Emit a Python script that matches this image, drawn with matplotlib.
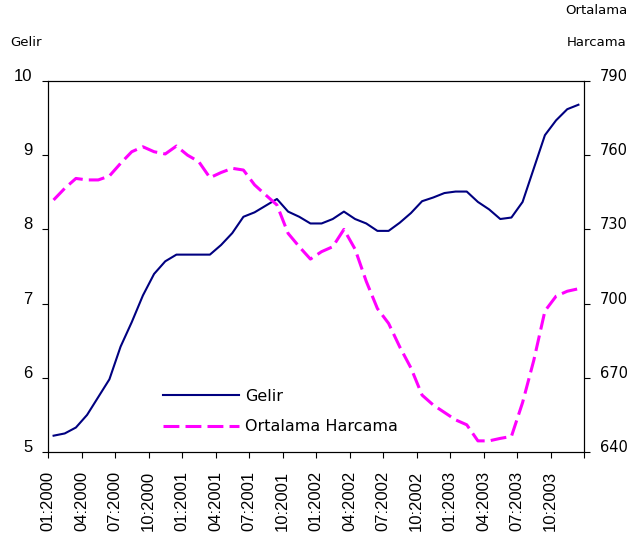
import matplotlib
matplotlib.use("Agg")
import matplotlib.pyplot as plt
from matplotlib.transforms import ScaledTranslation
import numpy as np

# ---- data ----
tick_labels = ["01:2000", "04:2000", "07:2000", "10:2000",
               "01:2001", "04:2001", "07:2001", "10:2001",
               "01:2002", "04:2002", "07:2002", "10:2002",
               "01:2003", "04:2003", "07:2003", "10:2003"]

gelir = [5.22, 5.25, 5.33, 5.50, 5.74, 5.98, 6.42, 6.75, 7.11, 7.40,
         7.57, 7.66, 7.66, 7.66, 7.66, 7.79, 7.95, 8.17, 8.23, 8.32,
         8.41, 8.24, 8.17, 8.08, 8.08, 8.14, 8.24, 8.14, 8.08, 7.98,
         7.98, 8.09, 8.22, 8.38, 8.43, 8.49, 8.51, 8.51, 8.37, 8.27,
         8.14, 8.16, 8.37, 8.82, 9.27, 9.47, 9.62, 9.68]

harcama = [741.9, 746.6, 750.6, 750.0, 750.0, 751.6, 756.7, 761.4, 763.4, 761.4,
           760.5, 763.7, 760.0, 757.4, 750.9, 753.0, 754.7, 754.0, 748.0, 743.9,
           739.9, 728.4, 723.0, 718.0, 721.0, 723.0, 730.0, 722.0, 709.0, 698.0,
           692.0, 682.5, 674.0, 663.0, 659.0, 656.0, 653.0, 651.0, 644.5, 644.5,
           645.5, 646.3, 660.0, 677.0, 697.0, 703.0, 705.0, 706.0]

left_ticks = [5, 6, 7, 8, 9, 10]
right_ticks = [640, 670, 700, 730, 760, 790]

# ---- figure ----
W, H = 632, 543
fig = plt.figure(figsize=(W / 100, H / 100), dpi=100)
ax = fig.add_axes([48 / W, 1 - 452 / H, (584 - 48) / W, (452 - 81) / H])
ax2 = ax.twinx()

x = np.arange(len(gelir)) + 0.5
l1, = ax.plot(x, gelir, color="#000080", lw=1.5, label="Gelir", zorder=3)
l2, = ax2.plot(x, harcama, color="#FF00FF", lw=2.2, dashes=(5.2, 2.0),
               label="Ortalama Harcama", zorder=3)

ax.set_xlim(0, len(gelir))
ax.set_ylim(5, 10)
ax2.set_ylim(640, 790)

ax.set_xticks(np.arange(0, len(gelir) + 1, 3))
ax.set_xticklabels(tick_labels + [""], rotation=90, family="Liberation Sans",
                   fontsize=12)
ax.set_yticks(left_ticks)
ax.set_yticklabels([str(v) for v in left_ticks], family="Liberation Sans",
                   fontsize=12)
ax2.set_yticks(right_ticks)
ax2.set_yticklabels([str(v) for v in right_ticks], family="DejaVu Sans",
                    fontsize=10.5)

ax.tick_params(axis="x", direction="out", length=4.3, width=0.8, pad=9,
               colors="black")
ax.tick_params(axis="y", direction="out", length=4.3, width=0.8, pad=7)
ax2.tick_params(axis="y", direction="out", length=4.3, width=0.8, pad=7)

for a in (ax, ax2):
    for s in a.spines.values():
        s.set_linewidth(0.8)
        s.set_color("black")

# shift y tick labels slightly upward like the reference
off = ScaledTranslation(0, 6 / 100, fig.dpi_scale_trans)
for lab in ax.get_yticklabels() + ax2.get_yticklabels():
    lab.set_transform(lab.get_transform() + off)

# axis titles
fig.text(10 / W, 1 - 43 / H, "Gelir", ha="left", va="center",
         family="DejaVu Sans", fontsize=9.5)
fig.text(627 / W, 1 - 10 / H, "Ortalama", ha="right", va="center",
         family="DejaVu Sans", fontsize=9.5)
fig.text(627 / W, 1 - 43 / H, "Harcama", ha="right", va="center",
         family="DejaVu Sans", fontsize=9.5)

# legend
leg = ax.legend(handles=[l1, l2], loc="upper left",
                bbox_to_anchor=(163 / W, 1 - 389 / H),
                bbox_transform=fig.transFigure, frameon=False,
                prop={"family": "DejaVu Sans", "size": 11.5},
                handlelength=4.75, handletextpad=0.4, labelspacing=0.95,
                borderpad=0, borderaxespad=0)
leg.set_zorder(5)

fig.savefig("out.png", dpi=100)
